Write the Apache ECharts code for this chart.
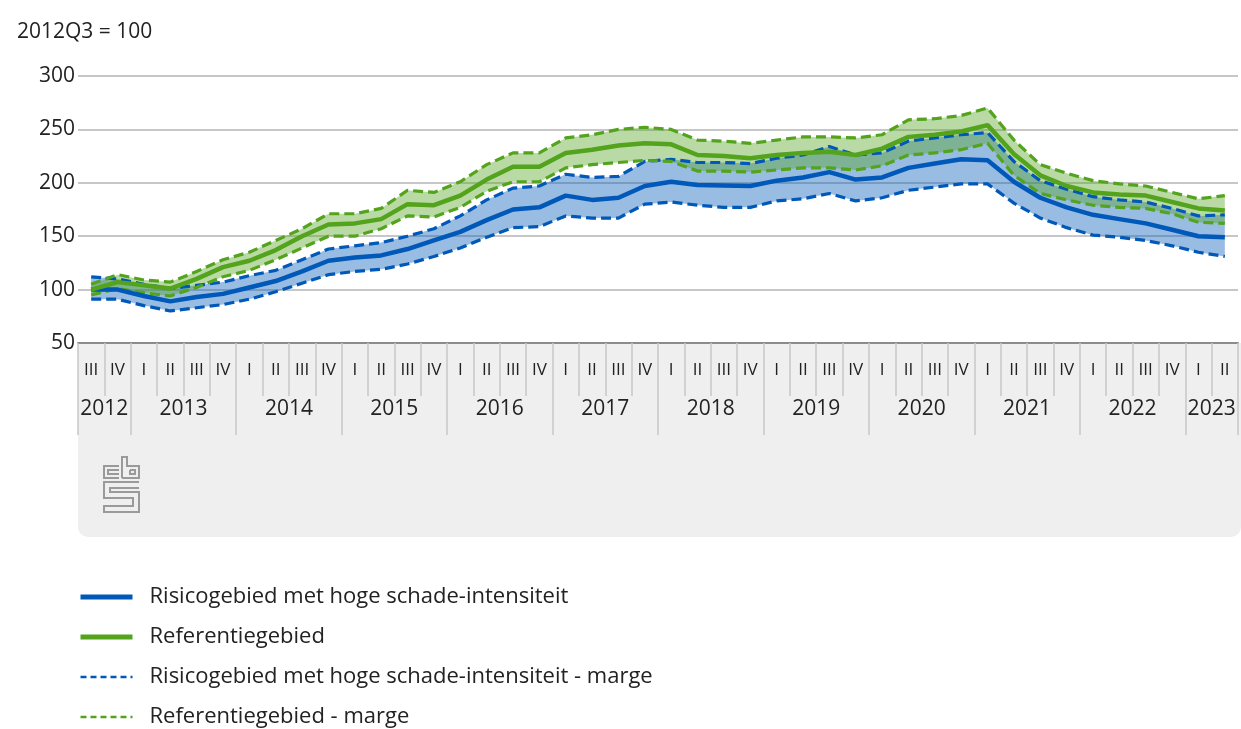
<!DOCTYPE html>
<html>
<head>
<meta charset="utf-8">
<script src="https://cdn.jsdelivr.net/npm/echarts@6/dist/echarts.min.js"></script>
<style>
  html, body { margin: 0; padding: 0; background: #fff; }
  #chart { width: 1241px; height: 729px; }
</style>
</head>
<body>
<div id="chart"></div>
<script>
// kwartalen 2012 III t/m 2023 II
const quarterLabels = [
  'III', 'IV',
  'I', 'II', 'III', 'IV', 'I', 'II', 'III', 'IV', 'I', 'II', 'III', 'IV',
  'I', 'II', 'III', 'IV', 'I', 'II', 'III', 'IV', 'I', 'II', 'III', 'IV',
  'I', 'II', 'III', 'IV', 'I', 'II', 'III', 'IV', 'I', 'II', 'III', 'IV',
  'I', 'II', 'III', 'IV',
  'I', 'II'
]
const years = ['2012', '2013', '2014', '2015', '2016', '2017', '2018', '2019', '2020', '2021', '2022', '2023']
const quartersPerYear = [2, 4, 4, 4, 4, 4, 4, 4, 4, 4, 4, 2]
const yTicks = [50, 100, 150, 200, 250, 300]

const blueMain = [100, 100, 94, 89, 93, 96, 102, 108, 117, 127, 130, 132, 138, 146, 154, 165, 175, 177, 188, 184, 186, 197, 201, 198, 197.5, 197, 202, 205, 210, 203, 205, 214, 218, 222, 221, 201, 186, 177, 170, 166, 162, 156, 150, 149]
const blueHigh = [112, 110, 105, 101, 104, 107, 113, 118, 128, 138, 141, 144, 150, 157, 169, 184, 195, 197, 208, 205, 206, 220, 222, 219, 219, 218, 223, 226, 234, 226, 228, 239, 242, 245, 247, 220, 202, 194, 187, 184, 182, 176, 169, 170]
const blueLow = [91, 91, 85, 80, 83, 86, 91, 98, 106, 114, 117, 119, 124, 131, 139, 149, 158, 159, 169, 167, 167, 180, 182, 179, 177, 177, 183, 185, 190, 183, 186, 193, 196, 199, 199, 181, 167, 158, 151, 149, 146, 141, 135, 131]

const greenMain = [100, 107, 104, 101, 110, 121, 127, 137, 150, 161, 162, 166, 180, 179, 188, 203, 215, 215, 228, 231, 235, 237, 236, 226, 225, 223, 226, 228, 229, 226, 232, 243, 245, 248, 254, 227, 207, 197, 191, 189, 188, 182, 176, 174]
const greenHigh = [105, 114, 109, 107, 117, 128, 135, 146, 157, 171, 171, 176, 193, 191, 201, 217, 228, 228, 242, 245, 250, 252, 250, 240, 239, 237, 240, 243, 243, 242, 245, 259, 260, 263, 270, 240, 217, 209, 202, 199, 197, 191, 185, 188]
const greenLow = [95, 101, 97, 94, 102, 112, 118, 128, 139, 150, 150, 157, 169, 168, 177, 192, 201, 201, 214, 217, 219, 221, 220, 211, 211, 210, 212, 214, 214, 212, 216, 226, 228, 231, 237, 207, 190, 184, 179, 177, 176, 171, 163, 162]

const BLUE = '#0058b8'
const GREEN = '#53a31d'
const FONT = 'Open Sans'

const nameBlue = 'Risicogebied met hoge schade-intensiteit'
const nameGreen = 'Referentiegebied'
const nameBlueM = 'Risicogebied met hoge schade-intensiteit - marge'
const nameGreenM = 'Referentiegebied - marge'

// jaar-as: 45 grenspunten, label in het midden van elk jaar
const yearSlots = new Array(quarterLabels.length + 1).fill('')
const yearBounds = [0]
let pos = 0
years.forEach((y, i) => {
  yearSlots[pos + quartersPerYear[i] / 2] = y
  pos += quartersPerYear[i]
  yearBounds.push(pos)
})

const chart = echarts.init(document.getElementById('chart'))

const band = (name, low, high, color) => ([
  {
    name: name + '-base', type: 'line', stack: name, data: low,
    symbol: 'none', silent: true, lineStyle: { opacity: 0 }
  },
  {
    name: name + '-fill', type: 'line', stack: name,
    data: high.map((v, i) => v - low[i]),
    symbol: 'none', silent: true, lineStyle: { opacity: 0 },
    areaStyle: { color: color, opacity: 1 }
  }
])

const dashed = (name, data, color) => ({
  name: name, type: 'line', data: data, symbol: 'none',
  lineStyle: { color: color, width: 3.2, type: [10, 5] },
  itemStyle: { color: color }
})

const solid = (name, data, color) => ({
  name: name, type: 'line', data: data, symbol: 'none',
  lineStyle: { color: color, width: 4.5 },
  itemStyle: { color: color }
})

const option = {
  animation: false,
  title: {
    text: '2012Q3 = 100', left: 12, top: 17,
    textStyle: { fontFamily: FONT, fontSize: 21, fontWeight: 'normal', color: '#222' }
  },
  grid: { left: 78, right: 0, top: 76, bottom: 386 },
  legend: {
    orient: 'vertical', left: 78, top: 585, padding: 0,
    itemWidth: 52, itemHeight: 14, itemGap: 16,
    itemStyle: { opacity: 0 },
    data: [
      { name: nameBlue, lineStyle: { width: 5, color: BLUE } },
      { name: nameGreen, lineStyle: { width: 5, color: GREEN } },
      { name: nameBlueM, lineStyle: { width: 2.5, color: BLUE, type: [6, 4] } },
      { name: nameGreenM, lineStyle: { width: 2.5, color: GREEN, type: [6, 4] } }
    ],
    textStyle: { fontFamily: FONT, fontSize: 22, color: '#222', padding: [0, 0, 0, 12], lineHeight: 24 }
  },
  graphic: [
    {
      type: 'rect', z: -10, silent: true,
      shape: { x: 78, y: 343, width: 1163, height: 194, r: [0, 0, 10, 10] },
      style: { fill: '#efefef' }
    },
    {
      type: 'group', silent: true, z: 5,
      children: [
        { type: 'polyline', shape: { points: [[119, 466], [104, 466], [104, 478], [119, 478]] }, style: { stroke: '#9a9a9a', lineWidth: 2, fill: null } },
        { type: 'polyline', shape: { points: [[119, 470], [108, 470], [108, 474], [119, 474]] }, style: { stroke: '#9a9a9a', lineWidth: 2, fill: null } },
        { type: 'polyline', shape: { points: [[122, 478], [122, 457], [127, 457], [127, 466], [139, 466], [139, 478], [122, 478]] }, style: { stroke: '#9a9a9a', lineWidth: 2, fill: null } },
        { type: 'polyline', shape: { points: [[130, 470], [135, 470], [135, 474], [130, 474], [130, 470]] }, style: { stroke: '#9a9a9a', lineWidth: 2, fill: null } },
        { type: 'polyline', shape: { points: [[139, 482], [104, 482], [104, 498], [133, 498], [133, 506], [104, 506], [104, 512], [139, 512], [139, 492], [110, 492], [110, 488], [139, 488]] }, style: { stroke: '#9a9a9a', lineWidth: 2, fill: null } }
      ]
    }
  ],
  xAxis: [
    {
      type: 'category', data: quarterLabels, boundaryGap: true, position: 'bottom',
      axisLine: { lineStyle: { color: '#8c8c8c', width: 2 } },
      axisTick: { show: true, interval: 0, length: 53, lineStyle: { color: '#c8c8c8', width: 1.5 } },
      axisLabel: { interval: 0, margin: 19, fontFamily: FONT, fontSize: 17, color: '#222' },
      splitLine: { show: false }
    },
    {
      type: 'category', data: yearSlots.map((v, i) => 'q' + i), boundaryGap: false, position: 'bottom',
      axisLine: { show: false },
      axisTick: {
        show: true, length: 92, lineStyle: { color: '#c8c8c8', width: 1.5 },
        interval: (idx) => yearBounds.indexOf(idx) >= 0
      },
      axisLabel: {
        interval: 0, margin: 56, fontFamily: FONT, fontSize: 21, color: '#222',
        formatter: (v, idx) => yearSlots[idx]
      },
      splitLine: { show: false }
    }
  ],
  yAxis: {
    type: 'value', min: yTicks[0], max: yTicks[yTicks.length - 1], interval: 50,
    axisLine: { show: false }, axisTick: { show: false },
    axisLabel: { margin: 3, fontFamily: FONT, fontSize: 21, color: '#222' },
    splitLine: { lineStyle: { color: '#b4b4b4', width: 1.5 } }
  },
  series: [
    ...band('blueBand', blueLow, blueHigh, 'rgba(0, 88, 184, 0.4)'),
    dashed(nameBlueM, blueHigh, BLUE),
    dashed(nameBlueM, blueLow, BLUE),
    ...band('greenBand', greenLow, greenHigh, 'rgba(83, 163, 29, 0.4)'),
    dashed(nameGreenM, greenHigh, GREEN),
    dashed(nameGreenM, greenLow, GREEN),
    solid(nameBlue, blueMain, BLUE),
    solid(nameGreen, greenMain, GREEN)
  ]
}

chart.setOption(option)
</script>
</body>
</html>
